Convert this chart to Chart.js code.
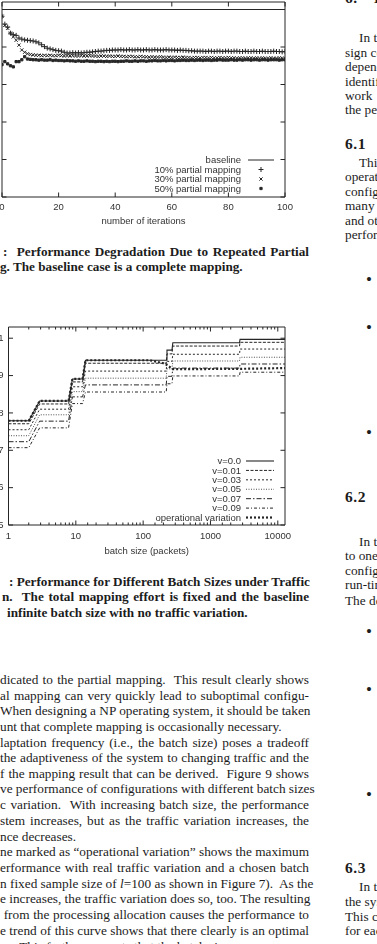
<!DOCTYPE html>
<html>
<head>
<meta charset="utf-8">
<script src="https://cdn.jsdelivr.net/npm/chart.js@4.4.1/dist/chart.umd.min.js"></script>
<style>
  body { margin: 0; width: 377px; height: 944px; overflow: hidden; background: #fff; position: relative;
         font-family: "Liberation Serif", "Times New Roman", serif; color: #1c1c1c; }
  canvas { position: absolute; }
  .ln { position: absolute; white-space: nowrap; font-size: 13.3px; line-height: 15px; height: 15px; }
  .j { text-align: justify; text-align-last: justify; }
  .b { font-weight: bold; font-size: 13.2px; }
  .h { font-weight: bold; font-size: 15.5px; letter-spacing: 0.5px; word-spacing: 12px; }
  .dot { font-size: 17px; }
</style>
</head>
<body>

<canvas id="degradation" width="340" height="230" style="left:-45px; top:-3px;"></canvas>
<canvas id="batch" width="340" height="239" style="left:-45px; top:318px;"></canvas>

<!-- figure captions, cut on the left side of the page -->
<div class="ln b j" style="left:3px; width:306px; top:244px;">:&nbsp; Performance Degradation Due to Repeated Partial</div>
<div class="ln b" style="left:0px; top:259px;">g. The baseline case is a complete mapping.</div>

<div class="ln b j" style="left:9px; width:300px; top:574px;">: Performance for Different Batch Sizes under Traffic</div>
<div class="ln b j" style="left:2px; width:307px; top:589px;">n.&nbsp; The total mapping effort is fixed and the baseline</div>
<div class="ln b" style="left:7px; top:605px;">infinite batch size with no traffic variation.</div>

<!-- body text, left column -->
<div class="ln j" style="left:0; width:309px; top:672px;">dicated to the partial mapping.&nbsp; This result clearly shows</div>
<div class="ln j" style="left:0; width:309px; top:688px;">al mapping can very quickly lead to suboptimal configu-</div>
<div class="ln j" style="left:0; width:309px; top:703px;">When designing a NP operating system, it should be taken</div>
<div class="ln" style="left:0; top:719px;">unt that complete mapping is occasionally necessary.</div>
<div class="ln j" style="left:0; width:309px; top:735px;">laptation frequency (i.e., the batch size) poses a tradeoff</div>
<div class="ln j" style="left:0; width:309px; top:750px;">the adaptiveness of the system to changing traffic and the</div>
<div class="ln j" style="left:0; width:309px; top:766px;">f the mapping result that can be derived.&nbsp; Figure 9 shows</div>
<div class="ln j" style="left:0; width:309px; top:781px;">ve performance of configurations with different batch sizes</div>
<div class="ln j" style="left:0; width:309px; top:797px;">c variation.&nbsp; With increasing batch size, the performance</div>
<div class="ln j" style="left:0; width:309px; top:813px;">stem increases, but as the traffic variation increases, the</div>
<div class="ln" style="left:0; top:829px;">nce decreases.</div>
<div class="ln j" style="left:0; width:309px; top:844px;">ne marked as “operational variation” shows the maximum</div>
<div class="ln j" style="left:0; width:309px; top:860px;">erformance with real traffic variation and a chosen batch</div>
<div class="ln j" style="left:0; width:309px; top:876px;">n fixed sample size of <i>l</i>=100 as shown in Figure 7).&nbsp; As the</div>
<div class="ln j" style="left:0; width:309px; top:891px;">e increases, the traffic variation does so, too. The resulting</div>
<div class="ln j" style="left:0; width:309px; top:907px;">&nbsp;from the processing allocation causes the performance to</div>
<div class="ln j" style="left:0; width:309px; top:923px;">e trend of this curve shows that there clearly is an optimal</div>
<div class="ln" style="left:0; top:939px;">e.&nbsp;&nbsp;&nbsp;This further suggests that the batch size</div>

<!-- right column, mostly off the page -->
<div class="ln h" style="left:345px; top:-10px;">6. EVALUATION</div>
<div class="ln" style="left:359px; top:30px;">In this section</div>
<div class="ln" style="left:345px; top:45px;">sign considerations</div>
<div class="ln" style="left:345px; top:59px;">dependent</div>
<div class="ln" style="left:345px; top:74px;">identify</div>
<div class="ln" style="left:345px; top:88px;">work</div>
<div class="ln" style="left:345px; top:102px;">the performance</div>
<div class="ln h" style="left:345px; top:136px;">6.1 Traffic</div>
<div class="ln" style="left:359px; top:155px;">This</div>
<div class="ln" style="left:345px; top:169px;">operating</div>
<div class="ln" style="left:345px; top:184px;">configuration</div>
<div class="ln" style="left:345px; top:198px;">many</div>
<div class="ln" style="left:345px; top:213px;">and other</div>
<div class="ln" style="left:345px; top:227px;">performance</div>
<div class="ln dot" style="left:366px; top:272px;">•</div>
<div class="ln dot" style="left:366px; top:320px;">•</div>
<div class="ln dot" style="left:366px; top:425px;">•</div>
<div class="ln h" style="left:345px; top:489px;">6.2 Run</div>
<div class="ln" style="left:359px; top:534px;">In this</div>
<div class="ln" style="left:345px; top:548px;">to one</div>
<div class="ln" style="left:345px; top:563px;">configuration</div>
<div class="ln" style="left:345px; top:577px;">run-time</div>
<div class="ln" style="left:345px; top:593px;">The design</div>
<div class="ln dot" style="left:366px; top:624px;">•</div>
<div class="ln dot" style="left:366px; top:682px;">•</div>
<div class="ln dot" style="left:366px; top:787px;">•</div>
<div class="ln h" style="left:345px; top:860px;">6.3 Static</div>
<div class="ln" style="left:359px; top:879px;">In this</div>
<div class="ln" style="left:345px; top:894px;">the system</div>
<div class="ln" style="left:345px; top:909px;">This could</div>
<div class="ln" style="left:345px; top:923px;">for each</div>

<script>
// ---- Figure 8: degradation under repeated partial mapping ----
const iterations = [];
for (let i = 0; i <= 100; i++) iterations.push(i);
const iterTicks = [0, 20, 40, 60, 80, 100];
const perfTicks = [0.5, 0.6, 0.7, 0.8, 0.9, 1.0];

const baselineLevel = [1.0, 1.0];
const partial10 = [
  .982,.961,.953,.937,.933,.931,.924,.921,.919,.918,
  .917,.916,.914,.911,.906,.901,.897,.895,.893,.891,
  .890,.889,.886,.884,.884,.885,.884,.885,.884,.885,
  .886,.886,.887,.888,.889,.889,.890,.891,.891,.892,
  .892,.892,.893,.892,.892,.893,.892,.892,.893,.892,
  .892,.893,.892,.892,.893,.892,.892,.892,.893,.892,
  .892,.892,.891,.892,.891,.891,.890,.890,.889,.889,
  .889,.889,.888,.889,.889,.888,.889,.889,.888,.889,
  .889,.888,.889,.889,.888,.888,.889,.888,.888,.889,
  .888,.888,.889,.888,.888,.888,.889,.888,.888,.887,.888
];
const partial30 = [
  .982,.958,.950,.937,.927,.918,.905,.892,.886,.882,
  .880,.879,.878,.878,.877,.878,.877,.878,.877,.877,
  .878,.877,.876,.877,.876,.877,.876,.876,.877,.876,
  .876,.877,.876,.876,.875,.876,.876,.875,.876,.875,
  .875,.876,.875,.875,.874,.875,.875,.874,.874,.875,
  .874,.874,.873,.874,.873,.873,.874,.873,.872,.873,
  .872,.873,.872,.872,.873,.872,.872,.871,.872,.872,
  .871,.872,.872,.871,.872,.871,.871,.872,.871,.871,
  .872,.871,.871,.870,.871,.871,.870,.871,.871,.870,
  .871,.870,.871,.870,.870,.871,.870,.870,.871,.870,.870
];
const partial50 = [
  .853,.861,.855,.850,.847,.861,.861,.866,.874,.868,
  .867,.866,.866,.865,.866,.865,.865,.866,.864,.865,
  .864,.864,.863,.864,.863,.863,.862,.863,.862,.862,
  .863,.862,.862,.861,.862,.862,.861,.862,.861,.862,
  .862,.861,.862,.862,.863,.862,.862,.863,.862,.863,
  .863,.862,.863,.863,.864,.863,.863,.864,.863,.864,
  .864,.863,.864,.864,.865,.864,.864,.865,.864,.865,
  .865,.864,.865,.865,.864,.865,.865,.866,.865,.865,
  .865,.866,.865,.865,.866,.865,.866,.866,.865,.866,
  .866,.865,.866,.866,.865,.866,.866,.866,.865,.866,.866
];

// ---- Figure 9: batch size under traffic variation ----
const batchSizes = [1, 2, 2.9, 7.8, 8.9, 12.6, 13.9, 220, 226, 268, 276, 2700, 2750, 12800];
const batchTicks = [1, 10, 100, 1000, 10000];
const v000 = [.779,.779,.832,.832,.891,.891,.941,.941,.968,.968,.988,.988,.997,.997];
const v001 = [.771,.771,.824,.824,.883,.883,.933,.933,.958,.958,.979,.979,.989,.989];
const v003 = [.755,.755,.810,.810,.870,.870,.912,.912,.938,.938,.957,.957,.971,.971];
const v005 = [.739,.739,.795,.795,.857,.857,.893,.893,.918,.918,.939,.939,.949,.949];
const v007 = [.723,.723,.778,.778,.843,.843,.875,.875,.898,.898,.920,.920,.931,.931];
const v009 = [.707,.707,.760,.760,.825,.825,.856,.856,.878,.878,.899,.899,.909,.909];
const opSizes = [1, 2, 2.9, 7.8, 8.9, 12.6, 13.9, 126, 200, 226, 276, 2700, 12800];
const opVariation = [.779,.779,.832,.832,.891,.891,.941,.941,.933,.928,.917,.918,.920];

const FONT = { family: '"Liberation Sans", Arial, sans-serif', size: 9.5 };
const INK = '#262626';
const TXT = '#333';

function pairs(xs, ys) { return xs.map((x, i) => ({ x: x, y: ys[i] })); }

// gnuplot style box with inward ticks on all four sides
const frameTicks = {
  id: 'frameTicks',
  afterDatasetsDraw(chart) {
    const { ctx, chartArea: a, scales: { x, y } } = chart;
    const isLog = x.type === 'logarithmic';
    ctx.save();
    ctx.strokeStyle = INK;
    ctx.lineWidth = 1;
    ctx.beginPath();
    ctx.rect(a.left, a.top, a.right - a.left, a.bottom - a.top);
    x.ticks.forEach(t => {
      const px = x.getPixelForValue(t.value);
      const len = (!isLog || batchTicks.includes(t.value)) ? 4.5 : 2.5;
      ctx.moveTo(px, a.bottom); ctx.lineTo(px, a.bottom - len);
      ctx.moveTo(px, a.top); ctx.lineTo(px, a.top + len);
    });
    y.ticks.forEach(t => {
      const py = y.getPixelForValue(t.value);
      ctx.moveTo(a.left, py); ctx.lineTo(a.left + 4.5, py);
      ctx.moveTo(a.right, py); ctx.lineTo(a.right - 4.5, py);
    });
    ctx.stroke();
    ctx.restore();
  }
};

// key in the lower right corner, text right aligned with sample after it
const boxKey = {
  id: 'boxKey',
  afterDraw(chart, args, o) {
    const ctx = chart.ctx;
    ctx.save();
    ctx.font = FONT.size + 'px ' + FONT.family;
    ctx.textAlign = 'right';
    ctx.textBaseline = 'middle';
    chart.data.datasets.forEach((ds, i) => {
      const ty = o.top + i * o.step;
      ctx.fillStyle = TXT;
      ctx.fillText(ds.label, o.textRight, ty + 0.5);
      if (ds.showLine === false) {
        const mx = (o.sampleFrom + o.sampleTo) / 2;
        ctx.strokeStyle = INK;
        ctx.fillStyle = INK;
        ctx.lineWidth = 1;
        Chart.helpers.drawPoint(ctx, {
          pointStyle: ds.pointStyle, radius: ds.pointRadius, borderWidth: 1, rotation: 0
        }, mx, ty);
      } else {
        ctx.strokeStyle = ds.borderColor;
        ctx.lineWidth = ds.borderWidth;
        ctx.setLineDash(ds.borderDash || []);
        ctx.beginPath();
        ctx.moveTo(o.sampleFrom, ty);
        ctx.lineTo(o.sampleTo, ty);
        ctx.stroke();
        ctx.setLineDash([]);
      }
    });
    ctx.restore();
  }
};

function fixAxis(size, prop) {
  return s => {
    s[prop] = size;
    s.paddingTop = 0; s.paddingBottom = 0; s.paddingLeft = 0; s.paddingRight = 0;
  };
}

function markerSet(label, data, style, radius) {
  return {
    label: label, data: data, showLine: false,
    pointStyle: style, pointRadius: radius, pointBorderWidth: 1,
    pointBorderColor: INK, pointBackgroundColor: INK
  };
}

new Chart(document.getElementById('degradation'), {
  type: 'scatter',
  data: {
    datasets: [
      { label: 'baseline', data: pairs([0, 100], baselineLevel), showLine: true, pointRadius: 0,
        borderColor: INK, borderWidth: 1 },
      markerSet('10% partial mapping', pairs(iterations, partial10), 'cross', 2.5),
      markerSet('30% partial mapping', pairs(iterations, partial30), 'crossRot', 2.3),
      markerSet('50% partial mapping', pairs(iterations, partial50), 'rect', 1.6)
    ]
  },
  options: {
    responsive: false, animation: false, devicePixelRatio: 1,
    layout: { padding: { top: 2.4, right: 10, left: 0, bottom: 0 } },
    plugins: {
      legend: { display: false }, tooltip: { enabled: false },
      boxKey: { textRight: 286, top: 163, step: 9.5, sampleFrom: 293, sampleTo: 319 }
    },
    scales: {
      x: {
        type: 'linear', min: 0, max: 100,
        afterBuildTicks: s => { s.ticks = iterTicks.map(v => ({ value: v })); },
        afterFit: fixAxis(30, 'height'),
        grid: { display: false, drawTicks: false }, border: { display: false },
        ticks: { font: FONT, color: TXT, padding: 4.3, maxRotation: 0, autoSkip: false },
        title: { display: true, text: 'number of iterations', font: FONT, color: TXT, padding: 0 }
      },
      y: {
        min: 0.5, max: 1.02,
        afterBuildTicks: s => { s.ticks = perfTicks.map(v => ({ value: v })); },
        afterFit: fixAxis(47, 'width'),
        grid: { display: false, drawTicks: false }, border: { display: false },
        ticks: { font: FONT, color: TXT, padding: 5, callback: v => String(+v.toFixed(2)) }
      }
    }
  },
  plugins: [frameTicks, boxKey]
});

function stepLine(label, xs, ys, dash, width) {
  return {
    label: label, data: pairs(xs, ys), showLine: true, pointRadius: 0,
    borderColor: INK, borderWidth: width, borderDash: dash
  };
}

new Chart(document.getElementById('batch'), {
  type: 'scatter',
  data: {
    datasets: [
      stepLine('v=0.0', batchSizes, v000, [], 1.1),
      stepLine('v=0.01', batchSizes, v001, [3, 1.5], 1),
      stepLine('v=0.03', batchSizes, v003, [2, 2], 1),
      stepLine('v=0.05', batchSizes, v005, [1, 1.5], 0.8),
      stepLine('v=0.07', batchSizes, v007, [5, 2, 1.5, 2], 1),
      stepLine('v=0.09', batchSizes, v009, [3, 2, 1, 2], 1),
      stepLine('operational variation', opSizes, opVariation, [2, 2], 2.2)
    ]
  },
  options: {
    responsive: false, animation: false, devicePixelRatio: 1,
    layout: { padding: { top: 9, right: 10, left: 0, bottom: 0 } },
    plugins: {
      legend: { display: false }, tooltip: { enabled: false },
      boxKey: { textRight: 286, top: 143, step: 9.42, sampleFrom: 291, sampleTo: 319 }
    },
    scales: {
      x: {
        type: 'logarithmic', min: 1, max: 12800,
        afterBuildTicks: s => { s.ticks = s.ticks.filter(t => t.value <= 10000); },
        afterFit: fixAxis(32, 'height'),
        grid: { display: false, drawTicks: false }, border: { display: false },
        ticks: { font: FONT, color: TXT, padding: 5.3, maxRotation: 0, autoSkip: false,
                 callback: v => batchTicks.includes(v) ? String(v) : '' },
        title: { display: true, text: 'batch size (packets)', font: FONT, color: TXT, padding: 0 }
      },
      y: {
        min: 0.5, max: 1.03,
        afterBuildTicks: s => { s.ticks = perfTicks.map(v => ({ value: v })); },
        afterFit: fixAxis(53.5, 'width'),
        grid: { display: false, drawTicks: false }, border: { display: false },
        ticks: { font: FONT, color: TXT, padding: 5, callback: v => String(+v.toFixed(2)) }
      }
    }
  },
  plugins: [frameTicks, boxKey]
});
</script>
</body>
</html>
